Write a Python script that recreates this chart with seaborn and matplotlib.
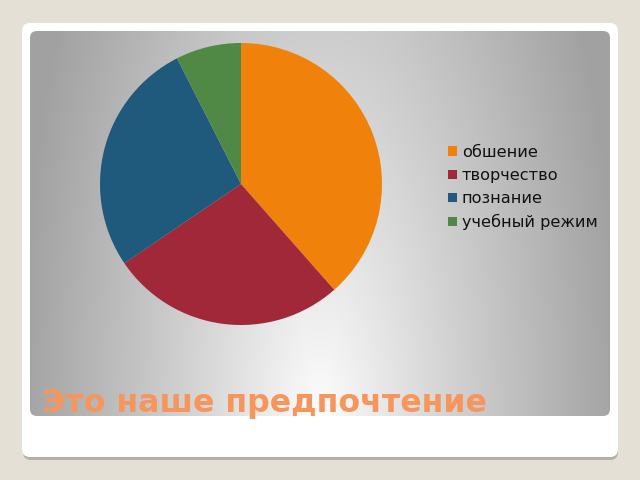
import numpy as np
import matplotlib
matplotlib.use("Agg")
import matplotlib.pyplot as plt
from matplotlib.patches import FancyBboxPatch, Patch
import seaborn as sns

# ---- data ----
categories = ["обшение", "творчество", "познание", "учебный режим"]
values = [38.5, 27.0, 27.0, 7.5]
colors = ["#f0820c", "#a02838", "#1f597c", "#508945"]
title_text = "Это наше предпочтение"

sns.set_theme(style="white")
plt.rcParams['font.family'] = ['DejaVu Sans']

W, H = 640, 480
fig = plt.figure(figsize=(6.4, 4.8), dpi=100)
fig.patch.set_facecolor("#e5e0d6")

def fbox(x0, y0, x1, y1):
    # pixel coords (top-left origin) -> figure fraction [l, b, w, h]
    return [x0 / W, 1 - y1 / H, (x1 - x0) / W, (y1 - y0) / H]

# background axes in pixel coordinates for slide
bg = fig.add_axes([0, 0, 1, 1])
bg.set_xlim(0, W)
bg.set_ylim(H, 0)
bg.axis("off")
bg.add_patch(FancyBboxPatch((23, 26), 595, 434, boxstyle="round,pad=0,rounding_size=8",
                            facecolor="#b4b0a8", edgecolor="none"))
bg.add_patch(FancyBboxPatch((22, 23), 596, 434, boxstyle="round,pad=0,rounding_size=8",
                            facecolor="white", edgecolor="none"))

# gradient panel
gx0, gy0, gx1, gy1 = 30, 31, 610, 416
gax = fig.add_axes(fbox(gx0, gy0, gx1, gy1))
gax.axis("off")
xs = np.arange(gx0, gx1) + 0.5
ys = np.arange(gy0, gy1) + 0.5
X, Y = np.meshgrid(xs, ys)
r = np.sqrt(((X - 320) / 300.0) ** 2 + ((Y - 430) / 800.0) ** 2)
r = np.clip(r, 0, 1)
val = (255 - 93 * r ** 0.9) / 255.0
img = np.dstack([val, val, val])
im = gax.imshow(img, extent=(gx0, gx1, gy1, gy0), aspect="auto", interpolation="bilinear")
gax.set_xlim(gx0, gx1)
gax.set_ylim(gy1, gy0)
clip = FancyBboxPatch((gx0, gy0), gx1 - gx0, gy1 - gy0, boxstyle="round,pad=0,rounding_size=7",
                      transform=gax.transData, facecolor="none", edgecolor="none")
gax.add_patch(clip)
im.set_clip_path(clip)

# pie
cx, cy, rad = 241, 184, 141
pax = fig.add_axes(fbox(cx - rad, cy - rad, cx + rad, cy + rad))
pax.pie(values, colors=colors, startangle=90, counterclock=False, radius=1,
        wedgeprops=dict(linewidth=0))
pax.set_xlim(-1, 1)
pax.set_ylim(-1, 1)
pax.set_aspect("equal")
pax.axis("off")

handles = [Patch(facecolor=c, edgecolor="none") for c in colors]
leg = fig.legend(handles, categories, loc="upper left",
                 bbox_to_anchor=(448 / W, 1 - 145 / H), frameon=False,
                 prop={'family': 'DejaVu Sans', 'size': 11.6},
                 handlelength=0.55, handleheight=0.55, handletextpad=0.3,
                 labelspacing=0.5, borderpad=0, borderaxespad=0)
for t in leg.get_texts():
    t.set_color("#111111")

fig.text(42 / W, 1 - 412 / H, title_text, color="#f7965c", fontsize=22.8,
         fontweight="bold", ha="left", va="baseline", family="DejaVu Sans")

fig.savefig("out.png", dpi=100, facecolor=fig.get_facecolor())
